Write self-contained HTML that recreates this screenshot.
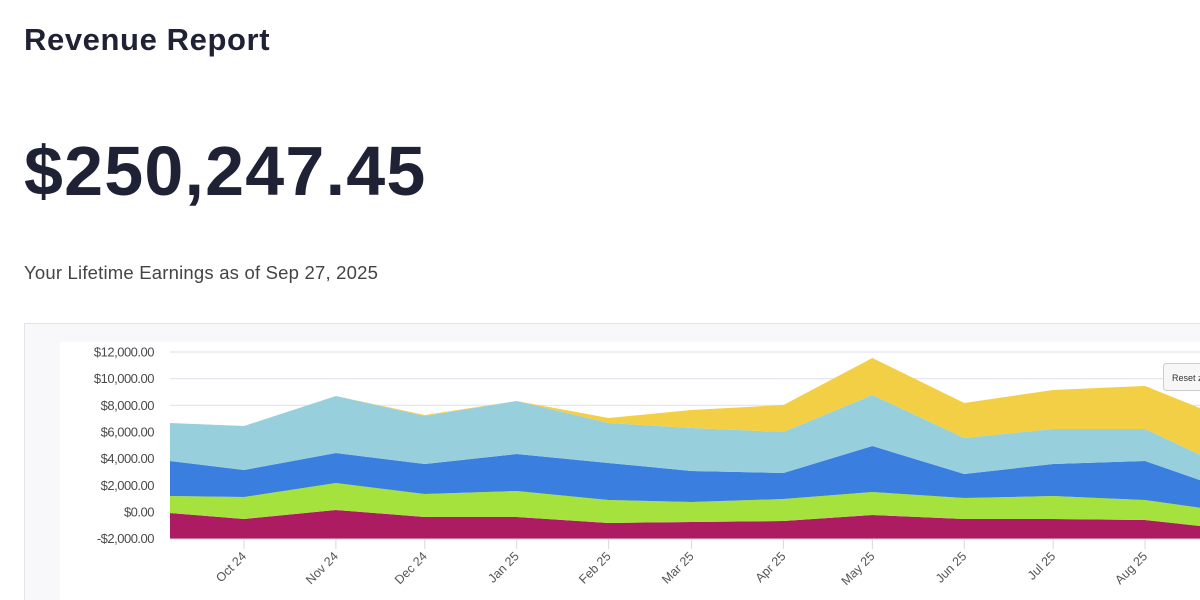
<!DOCTYPE html>
<html><head><meta charset="utf-8"><style>
body{margin:0;width:1200px;height:600px;overflow:hidden;background:#fff;font-family:"Liberation Sans",sans-serif;position:relative}
.t{position:absolute;left:24px;color:#1f2235;margin:0;white-space:nowrap}
</style></head><body>
<h1 class="t" style="top:22px;font-size:31px;font-weight:bold;letter-spacing:0.6px">Revenue Report</h1>
<div class="t" style="top:131px;font-size:70px;font-weight:bold;letter-spacing:1.2px">$250,247.45</div>
<div class="t" style="top:262px;font-size:18.5px;color:#444;letter-spacing:0.2px">Your Lifetime Earnings as of Sep 27, 2025</div>
<svg id="c" width="1200" height="600" style="position:absolute;left:0;top:0"></svg>
<script>
const dates=["2024-09-06","2024-10-01","2024-11-01","2024-12-01","2025-01-01","2025-02-01","2025-03-01","2025-04-01","2025-05-01","2025-06-01","2025-07-01","2025-08-01","2025-09-01"];
const seriesA=[-75,-525,150,-375,-375,-825,-750,-675,-225,-525,-525,-600,-1350];
const seriesB=[1275,1650,2025,1725,1950,1725,1500,1650,1725,1575,1725,1500,1275];
const seriesC=[2625,2025,2250,2250,2775,2775,2325,1950,3450,1800,2400,2925,1500];
const seriesD=[2850,3300,4275,3600,3975,3000,3225,3075,3825,2700,2625,2400,1575];
const seriesE=[0,0,0,75,0,375,1350,2025,2775,2625,2925,3225,3675];
const yTicks=[12000,10000,8000,6000,4000,2000,0,-2000];
const yTickLabels=["$12,000.00","$10,000.00","$8,000.00","$6,000.00","$4,000.00","$2,000.00","$0.00","-$2,000.00"];
const xTickDates=["2024-10-01","2024-11-01","2024-12-01","2025-01-01","2025-02-01","2025-03-01","2025-04-01","2025-05-01","2025-06-01","2025-07-01","2025-08-01"];
const xTickLabels=["Oct 24","Nov 24","Dec 24","Jan 25","Feb 25","Mar 25","Apr 25","May 25","Jun 25","Jul 25","Aug 25"];
const colors=["#ad1c62","#a6e23e","#3a7fe0","#97d0dc","#f2cf45"];
const names=["series-a","series-b","series-c","series-d","series-e"];
const NS="http://www.w3.org/2000/svg";
const svg=document.getElementById('c');
const t0=Date.parse("2024-10-01");
function X(d){return 244+(Date.parse(d)-t0)/86400000*2.964;}
function Y(v){return 512-v*0.013333;}
const PL=170,PR=1200,PB=539;
function mk(tag,attrs,parent){const e=document.createElementNS(NS,tag);for(const k in attrs)e.setAttribute(k,attrs[k]);(parent||svg).appendChild(e);return e;}
let card=mk('rect',{x:24.5,y:323.5,width:1200,height:300,fill:'#f8f8fa',stroke:'#e2e4ea'});


let inner=mk('rect',{x:60,y:342,width:1160,height:280,fill:'#fff'});


yTicks.forEach((v,i)=>{
 const g=mk('line',{x1:PL,x2:PR,y1:Y(v),y2:Y(v),stroke:'#e3e3ea','stroke-width':1.2});
 
 
 const t=mk('text',{x:154,y:Y(v)+4.5,'text-anchor':'end','font-size':13,fill:'#4a4a4a','letter-spacing':'-0.5'});
 t.textContent=yTickLabels[i];
 
 
});
const series=[seriesA,seriesB,seriesC,seriesD,seriesE];
let cum=dates.map(()=>0);
const clip=mk('clipPath',{id:'cp'});mk('rect',{x:PL,y:300,width:PR-PL,height:PB-300},clip);
const layers=[];
series.forEach((s,si)=>{
 const lower=cum.slice();
 cum=cum.map((c,i)=>c+s[i]);
 let d='M'+dates.map((dt,i)=>X(dt)+','+Y(cum[i])).join('L');
 if(si===0){d+='L'+X(dates[dates.length-1])+','+PB+'L'+X(dates[0])+','+PB+'Z';}
 else{for(let i=dates.length-1;i>=0;i--)d+='L'+X(dates[i])+','+Y(lower[i]);d+='Z';}
 layers.push([d,si]);
});
layers.forEach(([d,si])=>{
 const p=mk('path',{d:d,fill:colors[si],'clip-path':'url(#cp)'});
 
 
});
mk('line',{x1:PL,x2:PR,y1:PB,y2:PB,stroke:'#d8d8e0'});
xTickDates.forEach((d,i)=>{
 const x=X(d);
 const tk=mk('line',{x1:x,x2:x,y1:PB,y2:PB+10,stroke:'#d8d8e0'});
 
 
 const t=mk('text',{x:x+3,y:PB+18,'text-anchor':'end','font-size':12.5,fill:'#555',transform:`rotate(-45 ${x+3} ${PB+18})`});
 t.textContent=xTickLabels[i];
 
 
});
const b=mk('rect',{x:1163.5,y:363.5,width:60,height:27,rx:3,fill:'#f7f7f7',stroke:'#ccc'});


const bt=mk('text',{x:1172,y:381,'font-size':9,fill:'#333'});bt.textContent='Reset zoom';


</script>
</body></html>
